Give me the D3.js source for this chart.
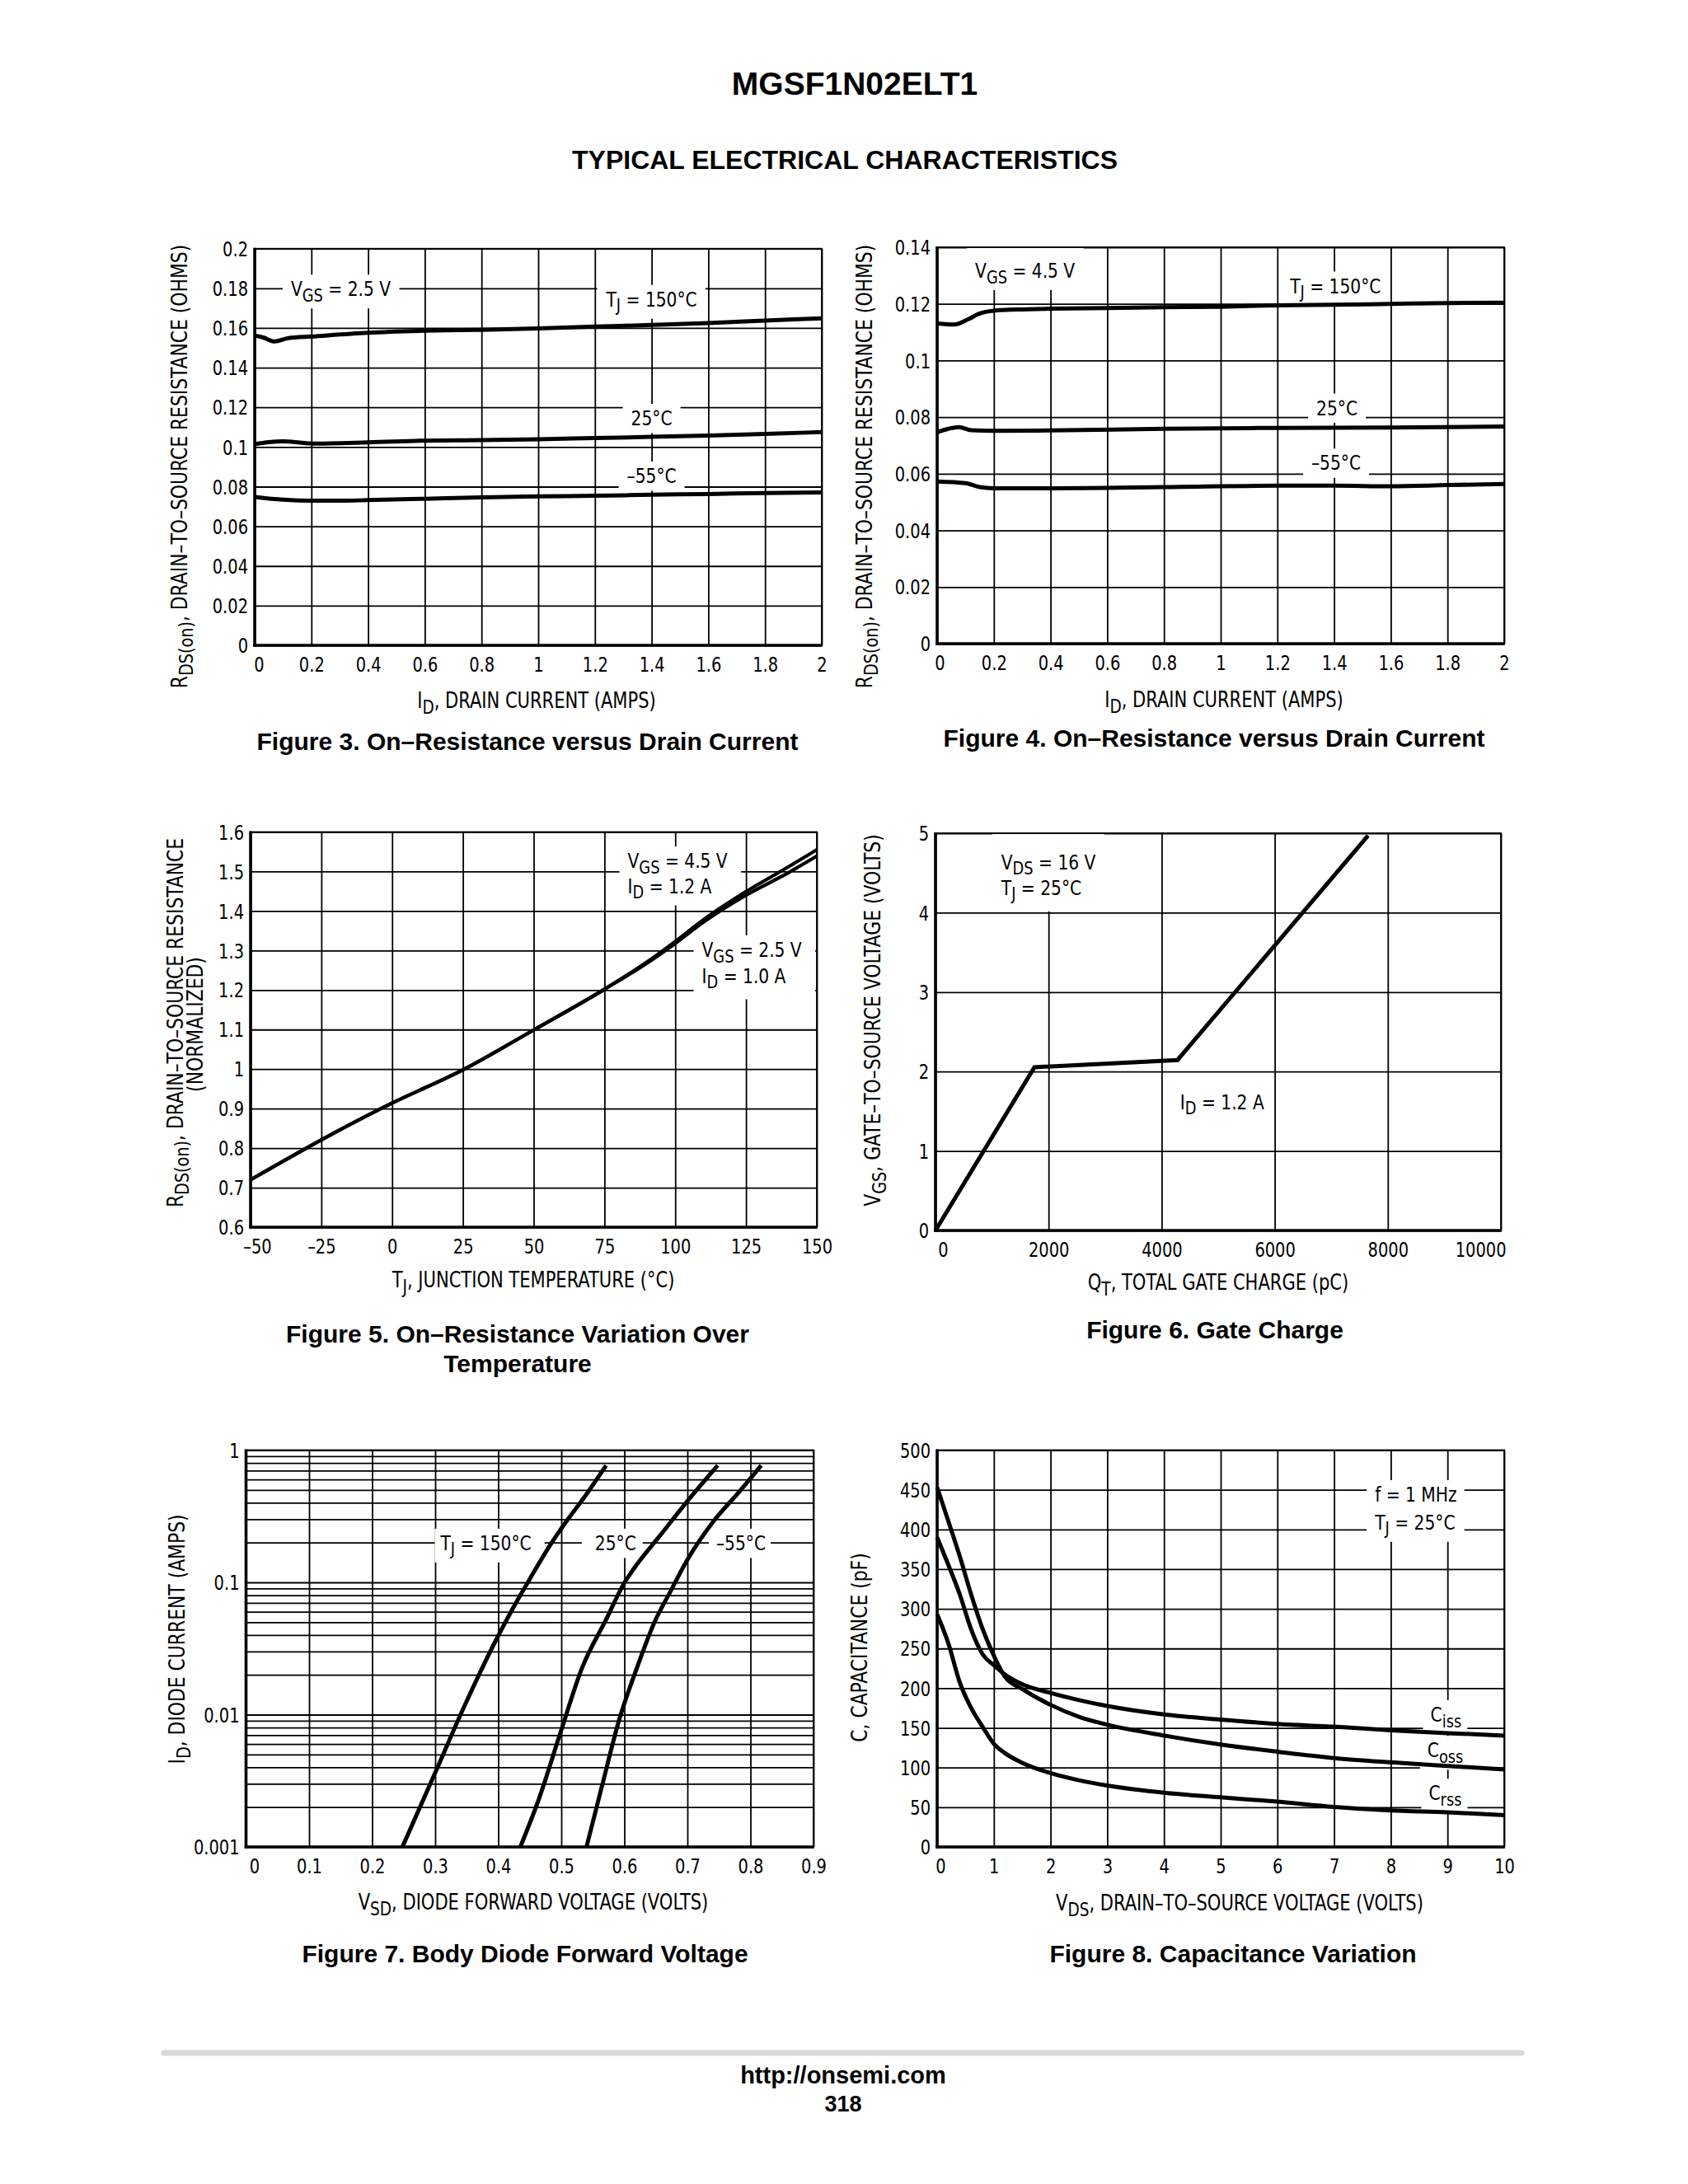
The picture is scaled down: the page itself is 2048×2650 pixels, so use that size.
<!DOCTYPE html>
<html><head><meta charset="utf-8">
<script src="https://cdn.jsdelivr.net/npm/d3@7"></script>
<style>
html,body{margin:0;padding:0;background:#fff;}
svg{display:block;background:#fff;}
</style></head><body>
<svg id="page" width="2048" height="2650"></svg>
<script>
// ================= DATA =================
// Figure 3 : RDS(on) vs ID, VGS = 2.5 V
const fig3XTicks = [0,0.2,0.4,0.6,0.8,1,1.2,1.4,1.6,1.8,2];
const fig3YTicks = [0,0.02,0.04,0.06,0.08,0.1,0.12,0.14,0.16,0.18,0.2];
const fig3Id150 = [0,0.03,0.07,0.119,0.2,0.4,0.6,0.8,1.0,1.2,1.4,1.6,1.8,2.0];
const fig3R150  = [0.1562,0.1552,0.1532,0.1549,0.1557,0.1576,0.1586,0.1591,0.1598,0.1607,0.1615,0.1625,0.1637,0.1649];
const fig3Id25  = [0,0.05,0.1,0.16,0.2,0.4,0.6,0.8,1.0,1.2,1.4,1.6,1.8,2.0];
const fig3R25   = [0.1014,0.1024,0.1028,0.1022,0.1017,0.1023,0.1032,0.1035,0.1039,0.1045,0.1051,0.1058,0.1066,0.1075];
const fig3IdM55 = [0,0.1,0.2,0.3,0.4,0.6,0.8,1.0,1.2,1.4,1.6,1.8,2.0];
const fig3RM55  = [0.0748,0.0734,0.0729,0.0729,0.0732,0.0739,0.0746,0.0751,0.0754,0.0759,0.0763,0.0768,0.0771];

// Figure 4 : RDS(on) vs ID, VGS = 4.5 V
const fig4XTicks = [0,0.2,0.4,0.6,0.8,1,1.2,1.4,1.6,1.8,2];
const fig4YTicks = [0,0.02,0.04,0.06,0.08,0.1,0.12,0.14];
const fig4Id150 = [0,0.06,0.11,0.15,0.2,0.28,0.4,0.6,0.8,1.0,1.2,1.4,1.6,1.8,2.0];
const fig4R150  = [0.1131,0.1127,0.1146,0.1166,0.1176,0.1180,0.1183,0.1185,0.1188,0.1190,0.1195,0.1197,0.1200,0.1203,0.1204];
const fig4Id25  = [0,0.04,0.077,0.12,0.2,0.4,0.8,1.2,1.6,2.0];
const fig4R25   = [0.0747,0.0759,0.0765,0.0754,0.0752,0.0753,0.0759,0.0762,0.0763,0.0767];
const fig4IdM55 = [0,0.1,0.15,0.2,0.4,0.8,1.2,1.4,1.6,1.8,2.0];
const fig4RM55  = [0.0573,0.0567,0.0553,0.0549,0.0549,0.0553,0.0558,0.0558,0.0556,0.0560,0.0564];

// Figure 5 : normalized RDS(on) vs TJ
const fig5XTicks = [-50,-25,0,25,50,75,100,125,150];
const fig5YTicks = [0.6,0.7,0.8,0.9,1.0,1.1,1.2,1.3,1.4,1.5,1.6];
const fig5Temp   = [-50,-25,0,25,50,75,90,100,110,125,140,150];
const fig5Vgs45  = [0.72,0.821,0.914,0.998,1.099,1.202,1.271,1.323,1.378,1.449,1.512,1.555];
const fig5Vgs25  = [0.72,0.821,0.914,0.998,1.099,1.202,1.268,1.318,1.372,1.440,1.497,1.539];

// Figure 6 : gate charge
const fig6XTicks = [0,2000,4000,6000,8000,10000];
const fig6YTicks = [0,1,2,3,4,5];
const fig6Charge = [0,1750,4280,7650];
const fig6Vgs    = [0,2.055,2.145,4.97];

// Figure 7 : body diode forward voltage (log)
const fig7XTicks = [0,0.1,0.2,0.3,0.4,0.5,0.6,0.7,0.8,0.9];
const fig7YTicks = [0.001,0.01,0.1,1];
const fig7Vsd150 = [0.248,0.301,0.343,0.400,0.425,0.450,0.481,0.512,0.535,0.571];
const fig7Id150  = [0.001,0.00373,0.0107,0.0395,0.066,0.106,0.187,0.307,0.430,0.766];
const fig7Vsd25  = [0.435,0.464,0.499,0.533,0.571,0.599,0.620,0.654,0.699,0.748];
const fig7Id25   = [0.001,0.00227,0.0074,0.0226,0.0523,0.0973,0.1368,0.218,0.406,0.766];
const fig7VsdM55 = [0.540,0.564,0.592,0.620,0.647,0.675,0.699,0.741,0.783,0.817];
const fig7IdM55  = [0.001,0.00282,0.0092,0.0226,0.049,0.0887,0.1455,0.288,0.489,0.766];

// Figure 8 : capacitance
const fig8XTicks = [0,1,2,3,4,5,6,7,8,9,10];
const fig8YTicks = [0,50,100,150,200,250,300,350,400,450,500];
const fig8Vds  = [0,0.2,0.4,0.6,0.8,1.0,1.2,1.5,2.0,2.5,3,4,5,6,7,8,9,10];
const fig8Ciss = [390,355,318,274,243,229,217,205,194,185,177.6,167,160.5,155,151.5,147,143.4,140.3];
const fig8Coss = [453,410,366,318,275,241,214,199,179,164,154,140.3,129,120,112,106.6,102,97.6];
const fig8Crss = [293,256,207,175,151.5,130,118,106,93,84,77.3,68.3,62.5,57,50.4,45.9,43.6,40];

// ================= DRAWING =================
const svg = d3.select('#page');
const NARROW = "'Liberation Sans Narrow','Arial Narrow','DejaVu Sans Condensed',sans-serif";
const BOLD = "'Liberation Sans',Arial,Helvetica,sans-serif";
const SX = 0.9; // horizontal squeeze for the condensed face

function rich(t, str, size){
  const sh = size*0.26;
  const parts = str.split(/(_\{[^}]*\})/).filter(s=>s.length);
  let down=false;
  parts.forEach(p=>{
    if(p.startsWith('_{')){
      t.append('tspan').attr('dy', down?0:sh).attr('font-size', size*0.88).text(p.slice(2,-1));
      down=true;
    } else {
      const s=t.append('tspan').text(p);
      if(down){ s.attr('dy',-sh); down=false; }
    }
  });
  return t;
}
function txt(parent, x, y, str, o={}){
  const size=o.size||25;
  const t=parent.append('text').attr('x',x).attr('y',y).attr('font-size',size)
    .attr('font-family', o.bold?BOLD:NARROW).attr('font-weight',o.bold?'bold':'normal')
    .attr('text-anchor',o.anchor||'start').attr('fill','#000');
  if(o.rotate) t.attr('transform',`rotate(-90,${x},${y})` + (o.bold?'':` translate(${x},${y}) scale(${SX},1) translate(${-x},${-y})`));
  else if(!o.bold) t.attr('transform',`translate(${x},0) scale(${SX},1) translate(${-x},0)`);
  rich(t,str,size);
  return t;
}
const numFmt = d => { const s = String(+d.toFixed(3)); return d<0 ? '\u2013'+s.slice(1) : s; };

function plot(o){
  const g=svg.append('g');
  const x=d3.scaleLinear().domain(o.xDom).range([o.l,o.r]);
  const y=(o.log?d3.scaleLog():d3.scaleLinear()).domain(o.yDom).range([o.b,o.t]);
  const w=o.r-o.l, h=o.b-o.t;

  const gx=g.append('g').attr('transform',`translate(0,${o.b})`)
    .call(d3.axisBottom(x).tickValues(o.xTicks).tickFormat(numFmt).tickSize(-h).tickSizeOuter(0));
  gx.select('.domain').remove();
  gx.selectAll('.tick line').attr('stroke','#000').attr('stroke-width',1.8);
  gx.selectAll('.tick text').attr('y',32).attr('dy',null)
    .attr('font-family',NARROW).attr('font-size',24).attr('fill','#000')
    .attr('dx',(d,i)=> i===0 ? (o.firstDx||0)/SX : 0)
    .attr('transform',`scale(${SX},1)`);
  if(o.lastEnd) gx.selectAll('.tick text').filter((d,i,n)=>i===n.length-1).attr('text-anchor','end').attr('dx',6/SX);

  const gy=g.append('g').attr('transform',`translate(${o.l},0)`)
    .call(d3.axisLeft(y).tickValues(o.yGrid||o.yTicks).tickFormat(o.yFmt||numFmt).tickSize(-w).tickSizeOuter(0));
  gy.select('.domain').remove();
  gy.selectAll('.tick line').attr('stroke','#000').attr('stroke-width',1.8);
  gy.selectAll('.tick text').attr('x',-8/SX).attr('dy','0.36em')
    .attr('font-family',NARROW).attr('font-size',24).attr('fill','#000')
    .attr('transform',`scale(${SX},1)`);

  // labels with white masks
  (o.labels||[]).forEach(L=>{
    const lg=g.append('g');
    const rect=lg.append('rect').attr('fill','#fff');
    let x0=Infinity,y0=Infinity,x1=-Infinity,y1=-Infinity;
    L.lines.forEach(ln=>{
      const ax=x(ln.x);
      const t=txt(lg, ax, y(ln.y), ln.s, {anchor:L.anchor||'start', size:25});
      const b=t.node().getBBox();
      const bx0=ax+(b.x-ax)*SX, bx1=ax+(b.x+b.width-ax)*SX;
      x0=Math.min(x0,bx0); x1=Math.max(x1,bx1); y0=Math.min(y0,b.y); y1=Math.max(y1,b.y+b.height);
    });
    const p=Object.assign({l:10,r:10,t:3,b:3}, L.pad||{});
    const rx0=Math.max(o.l+1,x0-p.l), rx1=Math.min(o.r-1,x1+p.r);
    const ry0=Math.max(o.t+1,y0-p.t), ry1=Math.min(o.b-1,y1+p.b);
    rect.attr('x',rx0).attr('y',ry0).attr('width',rx1-rx0).attr('height',ry1-ry0);
  });

  // curves
  o.series.forEach(s=>{
    const line=d3.line().x(d=>x(d[0])).y(d=>y(d[1])).curve(s.curve||d3.curveMonotoneX);
    g.append('path').datum(d3.zip(s.x,s.y)).attr('d',line).attr('fill','none')
      .attr('stroke','#000').attr('stroke-width',s.w||5).attr('stroke-linejoin',s.join||'round');
  });

  // frame
  g.append('rect').attr('x',o.l).attr('y',o.t).attr('width',w).attr('height',h)
    .attr('fill','none').attr('stroke','#000').attr('stroke-width',1.8);
  g.append('line').attr('x1',o.l).attr('x2',o.l).attr('y1',o.t-0.9).attr('y2',o.b+1.75).attr('stroke','#000').attr('stroke-width',3.6);
  g.append('line').attr('x1',o.l-1.75).attr('x2',o.r+0.9).attr('y1',o.b).attr('y2',o.b).attr('stroke','#000').attr('stroke-width',3.6);

  // titles
  (o.yTitle||[]).forEach(t=>txt(svg,t.x,t.y,t.s,{rotate:true,anchor:'middle',size:27}));
  txt(svg,o.xTitle.x,o.xTitle.y,o.xTitle.s,{anchor:'middle',size:26});
  o.caption.forEach(c=>txt(svg,c.x,c.y,c.s,{bold:true,anchor:'middle',size:30}));
}

// page header
txt(svg,1037,115,'MGSF1N02ELT1',{bold:true,anchor:'middle',size:39});
txt(svg,1025,205,'TYPICAL ELECTRICAL CHARACTERISTICS',{bold:true,anchor:'middle',size:32});

// Figure 3
plot({l:309,r:997,t:301.7,b:783,xDom:[0,2],yDom:[0,0.2],xTicks:fig3XTicks,yTicks:fig3YTicks,firstDx:5,
  labels:[
    {anchor:'middle',lines:[{s:'V_{GS} = 2.5 V',x:0.304,y:0.176}]},
    {anchor:'middle',lines:[{s:'T_{J} = 150°C',x:1.4,y:0.1708}]},
    {anchor:'middle',lines:[{s:'25°C',x:1.4,y:0.1109}]},
    {anchor:'middle',lines:[{s:'\u201355°C',x:1.4,y:0.0818}]}],
  series:[{x:fig3Id150,y:fig3R150},{x:fig3Id25,y:fig3R25},{x:fig3IdM55,y:fig3RM55}],
  yTitle:[{x:227,y:566,s:'R_{DS(on)}, DRAIN\u2013TO\u2013SOURCE RESISTANCE (OHMS)'}],
  xTitle:{x:651,y:859,s:'I_{D}, DRAIN CURRENT (AMPS)'},
  caption:[{x:640,y:910,s:'Figure 3. On\u2013Resistance versus Drain Current'}]});

// Figure 4
plot({l:1137,r:1825,t:300,b:781,xDom:[0,2],yDom:[0,0.14],xTicks:fig4XTicks,yTicks:fig4YTicks,firstDx:3,
  labels:[
    {anchor:'middle',pad:{t:30},lines:[{s:'V_{GS} = 4.5 V',x:0.31,y:0.1292}]},
    {anchor:'middle',lines:[{s:'T_{J} = 150°C',x:1.405,y:0.1238}]},
    {anchor:'middle',lines:[{s:'25°C',x:1.41,y:0.0807}]},
    {anchor:'middle',lines:[{s:'\u201355°C',x:1.407,y:0.0613}]}],
  series:[{x:fig4Id150,y:fig4R150},{x:fig4Id25,y:fig4R25},{x:fig4IdM55,y:fig4RM55}],
  yTitle:[{x:1058,y:566,s:'R_{DS(on)}, DRAIN\u2013TO\u2013SOURCE RESISTANCE (OHMS)'}],
  xTitle:{x:1485,y:858,s:'I_{D}, DRAIN CURRENT (AMPS)'},
  caption:[{x:1473,y:906,s:'Figure 4. On\u2013Resistance versus Drain Current'}]});

// Figure 5
plot({l:304,r:991,t:1009.5,b:1489,xDom:[-50,150],yDom:[0.6,1.6],xTicks:fig5XTicks,yTicks:fig5YTicks,firstDx:8,
  labels:[
    {lines:[{s:'V_{GS} = 4.5 V',x:83.2,y:1.509},{s:'I_{D} = 1.2 A',x:83.2,y:1.445}],pad:{r:16}},
    {lines:[{s:'V_{GS} = 2.5 V',x:109.4,y:1.284},{s:'I_{D} = 1.0 A',x:109.4,y:1.218}],pad:{r:16,b:8}}],
  series:[{x:fig5Temp,y:fig5Vgs45,w:4.2},{x:fig5Temp,y:fig5Vgs25,w:4.2}],
  yTitle:[{x:222,y:1241,s:'R_{DS(on)}, DRAIN\u2013TO\u2013SOURCE RESISTANCE'},{x:246,y:1243,s:'(NORMALIZED)'}],
  xTitle:{x:647,y:1562,s:'T_{J}, JUNCTION TEMPERATURE (°C)'},
  caption:[{x:628,y:1629,s:'Figure 5. On\u2013Resistance Variation Over'},{x:628,y:1665,s:'Temperature'}]});

// Figure 6
plot({l:1135,r:1821,t:1011,b:1493,xDom:[0,10000],yDom:[0,5],xTicks:fig6XTicks,yTicks:fig6YTicks,firstDx:9,lastEnd:true,
  labels:[
    {lines:[{s:'V_{DS} = 16 V',x:1163,y:4.544},{s:'T_{J} = 25°C',x:1163,y:4.222}],pad:{t:40,b:8}},
    {lines:[{s:'I_{D} = 1.2 A',x:4327,y:1.529}]}],
  series:[{x:fig6Charge,y:fig6Vgs,curve:d3.curveLinear,join:'miter',w:5}],
  yTitle:[{x:1068,y:1238,s:'V_{GS}, GATE\u2013TO\u2013SOURCE VOLTAGE (VOLTS)'}],
  xTitle:{x:1478,y:1565,s:'Q_{T}, TOTAL GATE CHARGE (pC)'},
  caption:[{x:1474,y:1624,s:'Figure 6. Gate Charge'}]});

// Figure 7 (log)
const fig7Grid = [];
fig7YTicks.forEach((dec,i)=>{ if(i<fig7YTicks.length-1){ for(let k=1;k<10;k++) fig7Grid.push(dec*k); } else fig7Grid.push(dec); });
plot({l:298.5,r:987,t:1759.5,b:2241,xDom:[0,0.9],yDom:[0.001,1],log:true,xTicks:fig7XTicks,yTicks:fig7YTicks,yGrid:fig7Grid,firstDx:10,
  yFmt:d=> fig7YTicks.some(v=>Math.abs(v-d)<1e-12) ? String(d) : '',
  labels:[
    {anchor:'middle',lines:[{s:'T_{J} = 150°C',x:0.3805,y:0.175}],pad:{l:6,r:16}},
    {anchor:'middle',lines:[{s:'25°C',x:0.586,y:0.175}],pad:{l:16,r:8}},
    {anchor:'middle',lines:[{s:'\u201355°C',x:0.785,y:0.175}],pad:{l:9,r:6}}],
  series:[{x:fig7Vsd150,y:fig7Id150},{x:fig7Vsd25,y:fig7Id25},{x:fig7VsdM55,y:fig7IdM55}],
  yTitle:[{x:224,y:1989,s:'I_{D}, DIODE CURRENT (AMPS)'}],
  xTitle:{x:647,y:2317,s:'V_{SD}, DIODE FORWARD VOLTAGE (VOLTS)'},
  caption:[{x:637,y:2381,s:'Figure 7. Body Diode Forward Voltage'}]});

// Figure 8
plot({l:1137,r:1825,t:1759.5,b:2241,xDom:[0,10],yDom:[0,500],xTicks:fig8XTicks,yTicks:fig8YTicks,firstDx:4,
  labels:[
    {lines:[{s:'f = 1 MHz',x:7.72,y:435},{s:'T_{J} = 25°C',x:7.72,y:399.8}],pad:{l:9,r:9}},
    {lines:[{s:'C_{iss}',x:8.70,y:157.8}],pad:{l:9,r:7}},
    {lines:[{s:'C_{oss}',x:8.645,y:112.7}],pad:{l:9,r:7}},
    {lines:[{s:'C_{rss}',x:8.67,y:58.7}],pad:{l:9,r:7}}],
  series:[{x:fig8Vds,y:fig8Ciss},{x:fig8Vds,y:fig8Coss},{x:fig8Vds,y:fig8Crss}],
  yTitle:[{x:1052,y:1999,s:'C, CAPACITANCE (pF)'}],
  xTitle:{x:1504,y:2318,s:'V_{DS}, DRAIN\u2013TO\u2013SOURCE VOLTAGE (VOLTS)'},
  caption:[{x:1496,y:2381,s:'Figure 8. Capacitance Variation'}]});

// footer
svg.append('line').attr('x1',199).attr('x2',1846).attr('y1',2491).attr('y2',2491)
  .attr('stroke','#d9d9d9').attr('stroke-width',7).attr('stroke-linecap','round');
txt(svg,1023,2528,'http://onsemi.com',{bold:true,anchor:'middle',size:29});
txt(svg,1023,2562,'318',{bold:true,anchor:'middle',size:27});
</script></body></html>
